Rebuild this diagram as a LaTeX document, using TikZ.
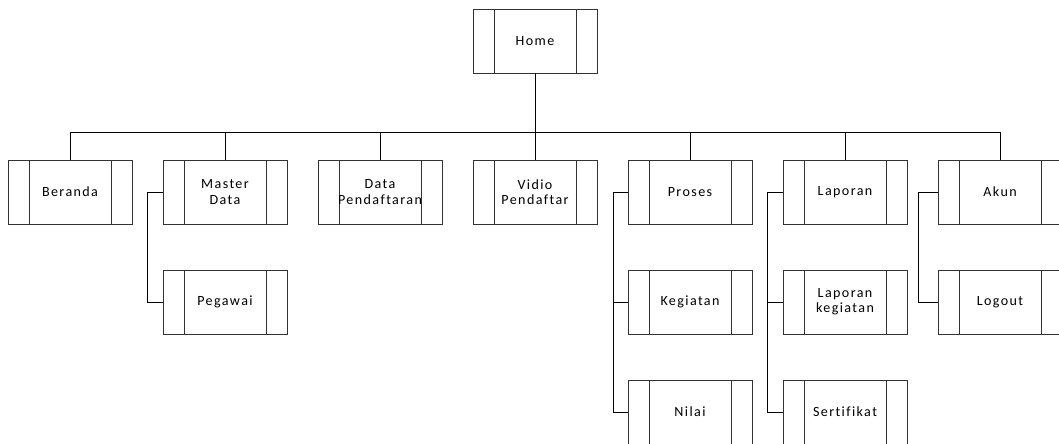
\documentclass[tikz,border=0pt]{standalone}
\usepackage{fontspec}
\setmainfont[LetterSpace=10, Ligatures={NoCommon}]{Carlito}
\tikzset{
  modul/.style={draw=black!80, line width=0.6pt, fill=white, minimum width=3.1cm, minimum height=1.6cm,
    inner sep=0pt, align=center, font=\fontsize{10}{10.8}\selectfont,
    path picture={
      \draw[black!80, line width=0.6pt] ([xshift=0.525cm]path picture bounding box.north west) -- ([xshift=0.525cm]path picture bounding box.south west);
      \draw[black!80, line width=0.6pt] ([xshift=-0.525cm]path picture bounding box.north east) -- ([xshift=-0.525cm]path picture bounding box.south east);
    }},
  garis/.style={line width=0.6pt}
}
\begin{document}
\begin{tikzpicture}[x=0.025cm, y=-0.025cm]
  \useasboundingbox (0,0) rectangle (1059,443);
  \clip (0,0) rectangle (1059,443);
  % menu utama
  \node[modul] (home) at (535,41) {Home};
  \node[modul] (beranda) at (70,192) {Beranda};
  \node[modul] (master) at (225,192) {Master\\Data};
  \node[modul] (daftar) at (380,192) {Data\\Pendaftaran};
  \node[modul] (vidio) at (535,192) {Vidio\\Pendaftar};
  \node[modul] (proses) at (690,192) {Proses};
  \node[modul] (laporan) at (845,192) {Laporan};
  \node[modul] (akun) at (1000,192) {Akun};
  % sub menu
  \node[modul] (pegawai) at (225,302) {Pegawai};
  \node[modul] (kegiatan) at (690,302) {Kegiatan};
  \node[modul] (nilai) at (690,412) {Nilai};
  \node[modul] (lapkeg) at (845,302) {Laporan\\kegiatan};
  \node[modul] (sertifikat) at (845,412) {Sertifikat};
  \node[modul] (logout) at (1000,302) {Logout};
  % garis ke menu utama
  \coordinate (bus) at (535,132);
  \draw[garis] (home.south) -- (bus);
  \foreach \m in {beranda,master,daftar,vidio,proses,laporan,akun} {
    \draw[garis] (\m.north) -- (\m.north |- bus);
  }
  \draw[garis] (beranda.north |- bus) -- (akun.north |- bus);
  % garis ke sub menu
  \draw[garis] (master.west) -- ++(-15,0) |- (pegawai.west);
  \draw[garis] (proses.west) -- ++(-14,0) |- (nilai.west);
  \draw[garis] (proses.west) ++(-14,0) |- (kegiatan.west);
  \draw[garis] (laporan.west) -- ++(-15,0) |- (sertifikat.west);
  \draw[garis] (laporan.west) ++(-15,0) |- (lapkeg.west);
  \draw[garis] (akun.west) -- ++(-19,0) |- (logout.west);
\end{tikzpicture}
\end{document}
